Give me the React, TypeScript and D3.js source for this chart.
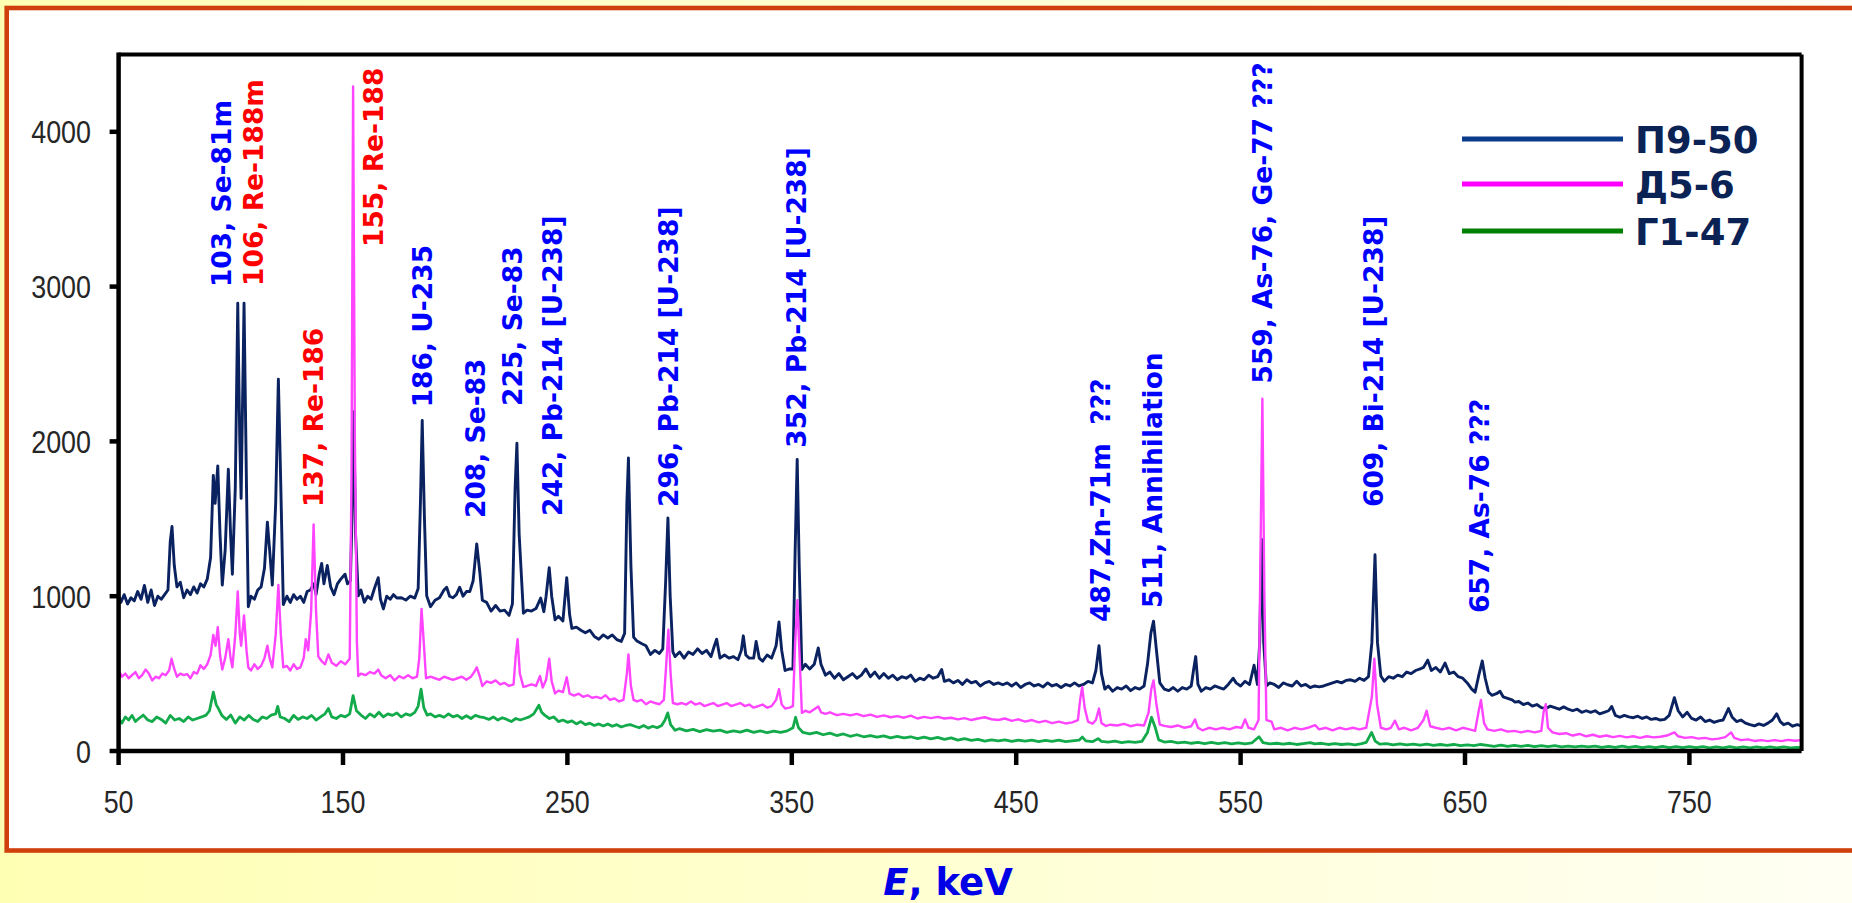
import React from "react";
import * as d3 from "d3";

// ---------- data ----------
const seriesNames = ["П9-50", "Д5-6", "Г1-47"];
const xTicks = [50, 150, 250, 350, 450, 550, 650, 750];
const yTicks = [0, 1000, 2000, 3000, 4000];

// [E keV, counts]
const p9_50: [number, number][] = [
  [50,1000],[51,960],[52.5,1010],[54,950],[55.5,990],[57,970],[58.5,1030],[60,980],[61.5,1070],[63,960],[64.5,1040],[66,940],[67.5,1000],[69,980],[70.5,1010],[72,1040],[73,1350],[73.8,1450],[74.8,1200],[76,1060],[77.5,1090],[79,990],[80.5,1040],[82,1010],[83.5,1060],[85,1020],[86.5,1080],[88,1060],[89.5,1110],[91,1250],[92.2,1780],[93,1600],[94.2,1842],[95.2,1400],[96.2,1072],[97.5,1300],[98.9,1820],[99.9,1400],[100.7,1142],[102,1700],[103.1,2892],[104,2000],[104.6,1632],[105.9,2892],[107,1700],[107.8,932],[109,1000],[110.5,980],[112,1040],[113.5,1060],[115,1180],[116.3,1478],[117.3,1300],[118.5,1072],[120,1600],[121.2,2402],[122.3,1700],[123.4,946],[125,1000],[126.5,960],[128,1010],[129.5,980],[131,1000],[132.5,960],[134,1030],[135.5,1040],[137,1080],[138,1010],[139.5,1150],[140.5,1212],[141.5,1080],[143,1198],[144.5,1060],[146,1010],[147.5,1080],[149,1110],[150.9,1142],[152,1080],[153.3,1100],[154,1500],[154.8,2192],[155.6,1400],[156.8,1002],[158,1040],[159.5,960],[161,1000],[162.5,980],[164,1050],[165.7,1120],[166.7,980],[168,918],[169.5,1000],[171,980],[172.5,1010],[174,988],[176,990],[178,975],[180,1000],[182,988],[183.5,1050],[184.5,1600],[185.3,2136],[186.3,1500],[187.3,1002],[189,932],[191,974],[193,990],[195,1040],[196.2,1058],[197.5,1000],[199,990],[200.5,1010],[202,1058],[203.5,1000],[205,1030],[206.5,1030],[208,1100],[209.6,1338],[211,1150],[212.1,974],[214,960],[216,904],[218,940],[220,904],[222,910],[224,876],[225.5,950],[226.7,1700],[227.5,1988],[228.5,1400],[230.4,890],[232,910],[234,904],[236,920],[238.1,988],[239.5,900],[240.5,1000],[241.9,1184],[243,1000],[244.5,848],[246,870],[248,840],[249.7,1120],[251,880],[252,792],[254,800],[256,780],[258,764],[260,780],[262,740],[264,722],[266,750],[268,730],[270,750],[272,720],[274,708],[275.5,760],[276.5,1600],[277.2,1893],[278.3,1200],[279.5,736],[281,710],[283,694],[285,680],[287,624],[289,650],[291,630],[292.5,660],[293.8,1100],[294.8,1506],[295.8,1000],[297,640],[298,610],[300,640],[302,600],[304,640],[306,624],[308,660],[310,630],[312,650],[314,610],[315.5,680],[316.5,722],[318,600],[320,620],[322,600],[324,610],[326,590],[327.5,650],[328.4,744],[329.5,620],[331,600],[333,600],[334.1,708],[335.5,600],[337,580],[339,620],[341,600],[343,680],[344.3,834],[345.5,650],[347,520],[349,530],[350.5,530],[351.5,1300],[352.4,1884],[353.3,1200],[354.5,526],[356,560],[358,530],[360,560],[361.8,666],[363,560],[365,490],[367,510],[369,470],[371,500],[373,460],[375,480],[377,500],[379,470],[381,490],[383,530],[385,480],[387,510],[389,470],[391,500],[393,470],[395,490],[397,460],[399,480],[401,470],[403,490],[405,450],[407,470],[409,460],[411,490],[413,470],[415,480],[416.8,526],[418,450],[420,460],[422,440],[424,456],[426,430],[428,460],[430,440],[432,450],[434,420],[436,440],[438,450],[440,430],[442,440],[444,428],[446,440],[448,420],[450,440],[452,410],[454,430],[456,440],[458,420],[460,430],[462,414],[464,440],[466,420],[468,430],[470,410],[472,430],[474,420],[476,440],[478,420],[480,430],[482,450],[484,440],[485.5,520],[486.9,680],[488,500],[489.5,400],[491,420],[493,386],[495,410],[497,400],[499,420],[501,390],[503,410],[505,400],[507,420],[508.5,560],[510,760],[511.2,839],[512.5,650],[514,440],[516,400],[518,390],[520,410],[522,386],[524,410],[526,400],[528,420],[529,520],[530,610],[531,430],[532.5,386],[534.5,410],[536.5,400],[538.5,420],[540.5,410],[542.5,400],[544.5,430],[546.7,470],[548,440],[550,420],[552,450],[554,430],[556,554],[557.5,430],[558.5,700],[559.4,1366],[560.3,700],[561.5,420],[563,440],[565,430],[567,410],[569,440],[571,428],[573,420],[575,450],[577,420],[579,430],[581,410],[583,420],[585,414],[587,420],[589,430],[591,440],[593,450],[595,440],[597,456],[599,460],[601,450],[603,470],[605,456],[607,480],[608.5,700],[609.9,1268],[611,700],[612.5,484],[614,450],[616,480],[618,470],[620,490],[622,480],[624,510],[626,500],[628,520],[630,530],[631.5,540],[633.4,587],[635,520],[637,540],[639,510],[641.1,568],[643,500],[645,510],[647,480],[649,470],[651,440],[653,400],[654.5,380],[656,480],[657.7,582],[659,470],[660.5,380],[662,360],[664,370],[665.6,386],[667,350],[669,340],[671,330],[672.3,316],[674,320],[676,300],[678,310],[680,290],[682,300],[684,280],[686,274],[688,290],[690,280],[692,270],[694,285],[696,270],[698,260],[700,270],[702,250],[704,260],[706,250],[708,260],[710,240],[712,250],[714,260],[715.4,288],[717,230],[719,218],[721,230],[723,220],[725,215],[727,225],[729,210],[731,220],[733,204],[735,210],[737,200],[739,204],[741,230],[743.3,344],[745,260],[747,220],[749,250],[751,210],[753,200],[755,220],[757,190],[759,200],[761,185],[763,195],[765,200],[767.4,274],[769,220],[771,190],[773,200],[775,180],[777,170],[779,162],[781,175],[783,165],[785,180],[787,200],[788.9,240],[790.5,190],[792,170],[794,180],[796,160],[798,170],[800,162]
];

const d5_6: [number, number][] = [
  [50,520],[51.5,480],[53,500],[54.5,470],[56,490],[57.5,510],[59,470],[60.5,490],[62,526],[63.5,500],[65,456],[66.5,480],[68,470],[69.5,500],[71,490],[72.5,520],[73.6,596],[74.8,530],[76,480],[77.5,500],[79,490],[80.5,497],[82,470],[83.5,510],[85,500],[86.5,554],[88,530],[89.5,560],[91,620],[92.2,750],[93.2,680],[94.2,800],[95.2,620],[96.2,526],[97.5,600],[98.9,722],[99.9,600],[100.7,540],[102,750],[103.1,1030],[104,760],[104.6,680],[105.9,876],[107,650],[107.8,540],[109,520],[110.5,560],[112,530],[113.5,550],[115,600],[116.3,680],[117.3,600],[118.5,540],[120,750],[121.2,1072],[122.3,750],[123.4,540],[125,550],[126.5,520],[128,560],[129.5,530],[131,540],[132.5,600],[133.4,722],[134.5,650],[135.8,900],[136.9,1464],[138,900],[139,610],[140.5,580],[142,560],[143.5,624],[145,570],[147,550],[149,580],[151,560],[153,596],[153.8,1800],[154.5,4293],[155.3,2000],[156.2,700],[156.8,484],[158,500],[160,490],[162,510],[164,500],[165.7,526],[167,490],[169,470],[171,490],[173,456],[175,484],[177,470],[179,490],[181,470],[183,480],[184,600],[185,918],[186,700],[187,470],[189,480],[191,470],[193,460],[195,480],[197,470],[199,460],[201,470],[203,480],[205,460],[207,480],[208.5,510],[209.6,540],[211,480],[212.1,420],[214,450],[216,440],[218,456],[220,430],[222,440],[224,420],[226,430],[227,620],[227.8,722],[228.8,500],[230.4,414],[232,420],[234,430],[236,420],[237.8,484],[239,410],[240.5,460],[241.9,596],[243,450],[244.5,372],[246,390],[248,380],[249.7,476],[251,370],[253,358],[255,370],[257,350],[259,360],[261,344],[263,350],[265,340],[267,360],[269,330],[271,340],[273,320],[275,330],[276.5,500],[277.2,624],[278.3,420],[279.5,330],[281,320],[283,330],[285,302],[287,320],[289,310],[291,302],[293,330],[294,550],[295,783],[296,500],[297,310],[299,302],[301,310],[303,300],[305,320],[307,300],[309,310],[311,290],[313,300],[315,310],[317,290],[319,300],[321,310],[323,290],[325,300],[327,310],[329,290],[331,300],[333,280],[335,290],[337,300],[339,280],[341,290],[343,330],[344.3,400],[345.5,300],[347,274],[349,280],[350.5,290],[351.5,700],[352.5,974],[353.5,600],[354.5,246],[356,260],[358,250],[360,270],[361.8,288],[363,250],[365,240],[367,250],[370,232],[373,240],[376,230],[379,240],[382,225],[385,235],[388,220],[391,230],[394,218],[397,225],[400,215],[403,228],[406,210],[409,220],[412,212],[415,220],[418,210],[421,215],[424,204],[427,212],[430,200],[433,210],[436,218],[439,205],[442,200],[445,210],[448,195],[451,205],[454,190],[457,200],[460,185],[463,195],[466,180],[469,190],[472,178],[475,185],[477.5,200],[478.5,330],[479.4,414],[480.5,280],[482,190],[484,176],[485.5,200],[486.9,274],[488,180],[490,162],[492,170],[495,165],[498,175],[501,160],[504,170],[507,165],[509,250],[510.2,400],[511.2,456],[512.5,300],[514,170],[516,162],[519,155],[522,165],[525,150],[528,160],[529.7,204],[531,150],[533,134],[536,150],[539,140],[542,150],[545,140],[548,155],[550.5,150],[552,204],[553.5,150],[556,140],[558,200],[558.8,1200],[559.7,2276],[560.6,1000],[561.5,200],[563.8,190],[565,140],[568,150],[571,134],[574,150],[577,140],[580,150],[583.2,167],[585,140],[588,150],[591,134],[594,150],[597,140],[600,150],[603,140],[606,150],[608.5,350],[609.6,596],[610.8,300],[612.5,150],[615,140],[617,150],[618.8,196],[620.5,140],[623,150],[626,134],[629,150],[631.5,200],[632.9,260],[634.5,160],[637,150],[640,140],[643,150],[646,134],[649,150],[652,140],[654.5,130],[656,250],[657.1,330],[658.5,180],[660,140],[663,130],[666,140],[669,125],[672,130],[675,120],[678,130],[681,120],[684,130],[685,250],[686,302],[687,150],[689,120],[692,110],[695,115],[698,100],[701,110],[704,95],[707,105],[710,92],[713,100],[716,90],[719,98],[722,88],[725,95],[728,85],[731,95],[734,88],[737,92],[740,100],[743.3,120],[745,95],[748,85],[751,90],[754,80],[757,85],[760,75],[763,80],[766,90],[768.6,120],[770,85],[773,70],[776,75],[779,65],[782,70],[785,64],[788,70],[791,64],[794,72],[797,66],[800,70]
];

const g1_47: [number, number][] = [
  [50,210],[51.5,180],[53,220],[54.5,200],[56,230],[57.5,190],[59,210],[61,232],[63,200],[65,190],[67,220],[69,204],[71,180],[73,230],[75,200],[77,210],[79,190],[81,220],[83,200],[85,210],[87,220],[89,232],[90.5,260],[92.2,380],[93.5,300],[94.5,274],[96,230],[98,204],[100,232],[102,180],[104,220],[106,200],[108,230],[110,204],[112,190],[114,220],[116,210],[118,232],[120,240],[120.9,288],[122,220],[124,210],[126,190],[128,230],[130,204],[132,220],[134,210],[136,230],[138,200],[140,220],[142,240],[143.5,274],[145,220],[147,210],[149,230],[151,220],[153,240],[154.5,358],[156,260],[158,232],[160,210],[162,240],[164,220],[166,250],[168,220],[170,240],[172,230],[174,246],[176,220],[178,240],[180,230],[182,250],[183.5,290],[184.8,400],[186,280],[187.5,232],[189,240],[191,220],[193,230],[195,218],[197,240],[199,220],[201,230],[203,210],[205,228],[207,210],[209,230],[211,220],[213,215],[215,204],[217,220],[219,200],[221,215],[223,204],[225,190],[227,210],[229,200],[231,210],[233,220],[235,240],[237.3,296],[238.5,250],[240,230],[242,210],[244,220],[246,190],[248,200],[250,185],[252,195],[254,175],[256,190],[258,170],[260,180],[262,165],[264,175],[266,162],[268,175],[270,160],[272,170],[274,155],[276,165],[278,170],[280,160],[282,150],[284,165],[286,148],[288,160],[290,150],[292,165],[293.5,200],[294.7,246],[296,170],[298,134],[300,145],[303,130],[306,140],[309,125],[312,138],[315,128],[318,135],[321,120],[324,130],[327,122],[330,135],[333,120],[336,130],[339,118],[342,128],[345,120],[348,130],[350.5,150],[351.7,218],[353,150],[355,120],[358,110],[361,120],[364,105],[367,115],[370,100],[373,110],[376,95],[379,105],[382,92],[385,100],[388,90],[391,98],[394,85],[397,95],[400,85],[403,92],[406,80],[409,90],[412,78],[415,88],[418,75],[421,85],[424,70],[427,80],[430,68],[433,75],[436,64],[439,72],[442,66],[445,72],[448,62],[451,70],[454,64],[457,70],[460,60],[463,68],[466,62],[469,70],[472,60],[475,66],[478,70],[479.5,90],[481,65],[484,60],[486.5,80],[488,62],[491,58],[494,64],[497,54],[500,60],[503,56],[506,62],[508.5,120],[510.3,218],[512,150],[513.5,72],[516,58],[519,62],[522,52],[525,58],[528,50],[531,56],[534,48],[537,55],[540,48],[543,54],[546,46],[549,52],[552,46],[555,52],[558.2,92],[560,54],[563,46],[566,50],[569,44],[572,50],[575,42],[578,48],[581,54],[583,46],[586,50],[589,42],[592,48],[595,42],[598,46],[601,40],[604,48],[606,56],[608.4,120],[610,64],[612,44],[615,48],[618,40],[621,46],[624,40],[627,44],[630,38],[633,44],[636,36],[639,42],[642,36],[645,42],[648,34],[651,40],[654,34],[657,42],[660,36],[663,30],[666,38],[669,30],[672,36],[675,30],[678,36],[681,28],[684,34],[687,28],[690,34],[693,26],[696,32],[699,26],[702,32],[705,26],[708,32],[711,24],[714,30],[717,24],[720,32],[723,24],[726,30],[729,22],[732,28],[735,22],[738,30],[741,22],[744,28],[747,22],[750,28],[753,22],[756,28],[759,20],[762,26],[765,20],[768,28],[771,20],[774,26],[777,20],[780,26],[783,20],[786,26],[789,20],[792,26],[795,20],[798,24],[800,22]
];

// peak annotations: text, colour key, anchor (keV, counts at text start)
const labelTexts = [
  "103, Se-81m", "106, Re-188m", "137, Re-186", "155, Re-188", "186, U-235",
  "208, Se-83", "225, Se-83", "242, Pb-214 [U-238]", "296, Pb-214 [U-238]",
  "352, Pb-214 [U-238]", "487,Zn-71m  ???", "511, Annihilation",
  "559, As-76, Ge-77 ???", "609, Bi-214 [U-238]", "657, As-76 ???",
];
const labelKinds = ["b", "r", "r", "r", "b", "b", "b", "b", "b", "b", "b", "b", "b", "b", "b"];
const labelE = [95.9, 109.9, 136.6, 163.4, 185.4, 208.8, 225.3, 243.1, 294.8, 351.9, 487.4, 510.6, 559.5, 609.0, 656.3];
const labelC = [2997, 3004, 1576, 3256, 2220, 1505, 2229, 1518, 1576, 1959, 833, 924, 2374, 1576, 891];

// ---------- layout ----------
const W = 1852, H = 903;
const X0 = 118.6, X1 = 1801.6, Y0 = 751, Y1 = 54.4;

const seriesColors = ["#0b2260", "#ff44ff", "#12aa4a"];
const legendColors = ["#0a3a8a", "#ff00ff", "#008000"];
const seriesWidths = [2.9, 2.4, 2.8];

export default function App() {
  const x = d3.scaleLinear().domain([50, 800]).range([X0, X1]);
  const y = d3.scaleLinear().domain([0, 4500]).range([Y0, Y1]);
  const line = d3.line<[number, number]>().x((d) => x(d[0])).y((d) => y(d[1]));
  const allSeries = [p9_50, d5_6, g1_47];
  const tickFont = "'Liberation Sans', Arial, sans-serif";
  const boldFont = "'DejaVu Sans', Verdana, sans-serif";

  return (
    <svg width={W} height={H} style={{ position: "fixed", left: 0, top: 0 }}>
      <defs>
        <linearGradient id="bg" x1="0" y1="0" x2="1" y2="0">
          <stop offset="0" stopColor="#ffffb4" />
          <stop offset="0.5" stopColor="#ffffd2" />
          <stop offset="1" stopColor="#fffff4" />
        </linearGradient>
        <clipPath id="plotclip">
          <rect x={X0} y={Y1} width={X1 - X0} height={Y0 - Y1} />
        </clipPath>
      </defs>
      <rect x={0} y={0} width={W} height={H} fill="url(#bg)" />
      <rect x={6.7} y={8} width={W + 20} height={842.5} fill="#ffffff" stroke="#d0400c" strokeWidth={4.6} />

      {/* series */}
      <g clipPath="url(#plotclip)">
        {allSeries.map((s, i) => (
          <path key={i} d={line(s) || ""} fill="none" stroke={seriesColors[i]}
            strokeWidth={seriesWidths[i]} strokeLinejoin="round" />
        ))}
      </g>

      {/* frame */}
      <line x1={X0} y1={Y1} x2={X1} y2={Y1} stroke="#000" strokeWidth={4} />
      <line x1={X1} y1={Y1} x2={X1} y2={Y0} stroke="#000" strokeWidth={4} />
      <line x1={X0} y1={Y0} x2={X1} y2={Y0} stroke="#000" strokeWidth={4.5} />
      <line x1={X0} y1={Y1 - 2} x2={X0} y2={Y0 + 2} stroke="#000" strokeWidth={4.5} />

      {/* y axis */}
      {yTicks.map((t) => (
        <g key={t}>
          <line x1={X0 - 9} x2={X0} y1={y(t)} y2={y(t)} stroke="#000" strokeWidth={4.5} />
          <text transform={`translate(91,${y(t) + 11.5}) scale(0.84,1)`} textAnchor="end"
            fontFamily={tickFont} fontSize={32} fill="#262626">{t}</text>
        </g>
      ))}
      {/* x axis */}
      {xTicks.map((t) => (
        <g key={t}>
          <line x1={x(t)} x2={x(t)} y1={Y0} y2={Y0 + 14} stroke="#000" strokeWidth={4.5} />
          <text transform={`translate(${x(t)},813) scale(0.84,1)`} textAnchor="middle"
            fontFamily={tickFont} fontSize={32} fill="#262626">{t}</text>
        </g>
      ))}

      {/* annotations */}
      {labelTexts.map((t, i) => (
        <text key={i}
          transform={`translate(${x(labelE[i]) + 9.7},${y(labelC[i])}) rotate(-90)`}
          fontFamily={boldFont} fontWeight="bold" fontSize={26.5}
          fill={labelKinds[i] === "r" ? "#ff0000" : "#0000ff"}
          style={{ whiteSpace: "pre" }}>{t}</text>
      ))}

      {/* legend */}
      {seriesNames.map((n, i) => {
        const ly = [139, 184, 231][i];
        return (
          <g key={n}>
            <line x1={1462} x2={1623} y1={ly} y2={ly} stroke={legendColors[i]} strokeWidth={5} />
            <text x={1635} y={ly + 13.5} fontFamily={boldFont} fontWeight="bold" fontSize={37} fill="#0b2255">{n}</text>
          </g>
        );
      })}

      {/* x axis title */}
      <text x={948} y={895} textAnchor="middle" fontFamily={boldFont} fontWeight="bold" fontSize={37} fill="#0000e6">
        <tspan fontStyle="italic">E</tspan>, keV
      </text>
    </svg>
  );
}
